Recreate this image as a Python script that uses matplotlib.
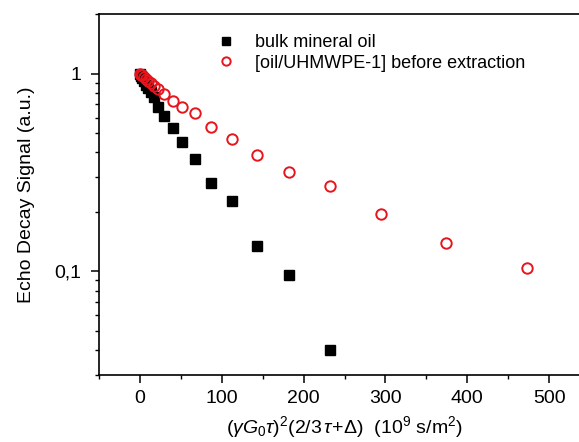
import numpy as np
import matplotlib
matplotlib.use("Agg")
import matplotlib.pyplot as plt
from matplotlib.ticker import FixedLocator, FuncFormatter, MultipleLocator, LogLocator, NullFormatter

plt.rcParams['font.family'] = ['Liberation Sans', 'DejaVu Sans']
plt.rcParams['mathtext.fontset'] = 'custom'
plt.rcParams['mathtext.rm'] = 'Liberation Sans'
plt.rcParams['mathtext.it'] = 'Liberation Sans:italic'

# bulk mineral oil
x_bulk = [0, 1.5, 3, 5, 7.5, 10, 13, 17, 22, 30, 40, 52, 67, 87, 112, 143, 182, 232]
y_bulk = [1.0, 0.97, 0.95, 0.92, 0.88, 0.85, 0.81, 0.76, 0.68, 0.61, 0.53, 0.45,
          0.37, 0.28, 0.227, 0.134, 0.096, 0.040]

# [oil/UHMWPE-1] before extraction
x_uhm = [0, 1.5, 3, 5, 7.5, 10, 13, 17, 22, 30, 40, 52, 67, 87, 112, 143, 182,
         232, 295, 374, 473]
y_uhm = [1.0, 0.99, 0.98, 0.96, 0.94, 0.92, 0.90, 0.87, 0.84, 0.79, 0.73, 0.68,
         0.63, 0.54, 0.47, 0.39, 0.32, 0.27, 0.195, 0.14, 0.104]

fig = plt.figure(figsize=(5.79, 4.42), dpi=100)
ax = fig.add_axes([0.171, 0.152, 1.019 - 0.171, 0.968 - 0.152])

ax.plot(x_bulk, y_bulk, 's', color='black', markersize=7.5, linestyle='none',
        label='bulk mineral oil')
ax.plot(x_uhm, y_uhm, 'o', mfc='none', mec='#e8141c', mew=1.4, markersize=7.5,
        linestyle='none', label='[oil/UHMWPE-1] before extraction')

ax.set_yscale('log')
ax.set_xlim(-50, 550)
ax.set_ylim(0.03, 2)

ax.xaxis.set_major_locator(MultipleLocator(100))
ax.xaxis.set_minor_locator(MultipleLocator(50))
ax.yaxis.set_major_locator(FixedLocator([0.1, 1]))
ax.yaxis.set_major_formatter(FuncFormatter(lambda v, p: '1' if v >= 1 else '0,1'))
ax.yaxis.set_minor_locator(LogLocator(base=10, subs=np.arange(2, 10)))
ax.yaxis.set_minor_formatter(NullFormatter())

ax.tick_params(which='major', direction='out', length=6, width=1.1, labelsize=14,
               top=False, right=False, pad=5)
ax.tick_params(axis='y', which='major', pad=7)
ax.tick_params(which='minor', direction='out', length=3, width=1.0,
               top=False, right=False)

for s in ['left', 'bottom', 'top']:
    ax.spines[s].set_linewidth(1.2)
ax.spines['right'].set_visible(False)

ax.set_ylabel('Echo Decay Signal (a.u.)', fontsize=14, labelpad=14)
ax.set_xlabel(r'$(\gamma G_0\tau)^2(2/3\,\tau\!+\!\mathit{Δ})$  (10$^9$ s/m$^2$)',
              fontsize=14, labelpad=5)

ax.legend(loc='upper left', bbox_to_anchor=(0.204, 0.99), frameon=False, fontsize=13,
          numpoints=1, markerscale=0.8, handletextpad=1.0, labelspacing=0.2,
          handlelength=1.2)

fig.savefig('out.png', dpi=100)
